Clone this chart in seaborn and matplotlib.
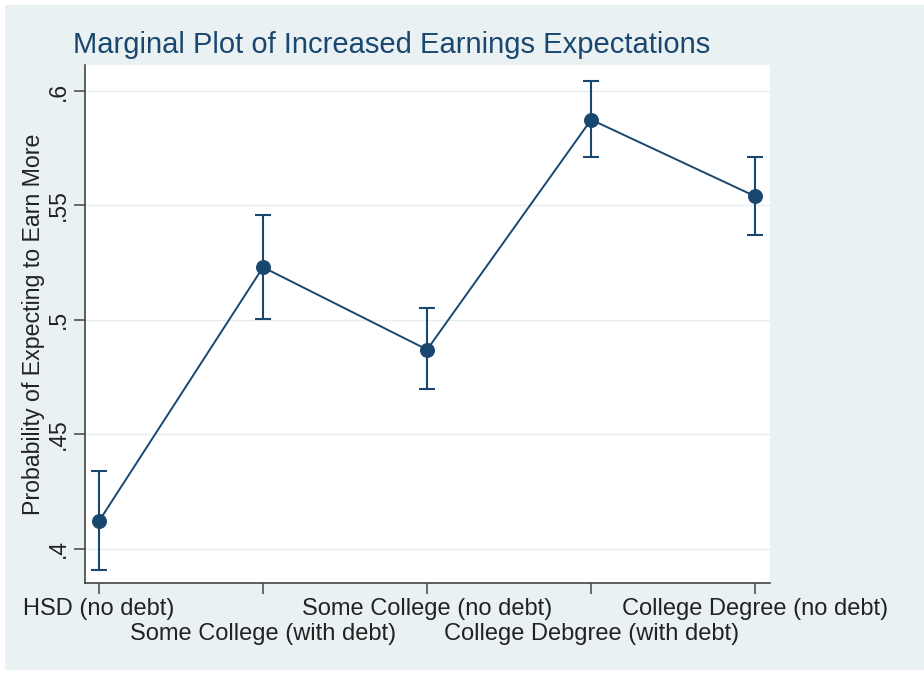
import matplotlib
matplotlib.use("Agg")
import matplotlib.pyplot as plt
import seaborn as sns
import numpy as np
import pandas as pd
from matplotlib.patches import Rectangle

categories = ["HSD (no debt)", "Some College (with debt)", "Some College (no debt)",
              "College Debgree (with debt)", "College Degree (no debt)"]
margins = [0.412, 0.523, 0.487, 0.5875, 0.554]
ci_low = [0.3905, 0.5005, 0.470, 0.571, 0.537]
ci_high = [0.434, 0.546, 0.505, 0.6045, 0.571]
yticks = [0.4, 0.45, 0.5, 0.55, 0.6]
ytick_labels = [".4", ".45", ".5", ".55", ".6"]

sns.set_theme(style="white")
plt.rcParams['font.family'] = ['Liberation Sans', 'DejaVu Sans']

BG = "#EAF1F3"
NAVY = "#1A476F"

fig = plt.figure(figsize=(9.24, 6.74), dpi=100)
fig.patch.set_facecolor("white")
fig.add_artist(Rectangle((5/924, 4/674), 1 - 5/924, 1 - 9/674, transform=fig.transFigure,
                         facecolor=BG, edgecolor="none", zorder=-10))

ax = fig.add_axes([85/924, 1 - 583/674, (770 - 85)/924, (583 - 65)/674])
ax.set_facecolor("white")

df = pd.DataFrame({"pos": np.arange(len(categories)), "margin": margins,
                   "lo": ci_low, "hi": ci_high})

for y in yticks:
    ax.axhline(y, color="#E6EDEF", lw=1.0, zorder=0)

sns.lineplot(data=df, x="pos", y="margin", ax=ax, color=NAVY, lw=1.4,
             marker="o", markersize=10, markeredgecolor=NAVY, markerfacecolor=NAVY, zorder=3)
ax.errorbar(df["pos"], df["margin"],
            yerr=[df["margin"] - df["lo"], df["hi"] - df["margin"]],
            fmt="none", ecolor=NAVY, elinewidth=1.5, capsize=6, capthick=1.5, zorder=2)

ax.set_xlim(-0.085, 4.09)
ax.set_ylim(0.385, 0.6114)
ax.set_yticks(yticks)
ax.set_yticklabels(ytick_labels, rotation=90, va="center", fontsize=16.5, color="#222222")
ax.set_xticks(df["pos"])
ax.set_xticklabels(categories, fontsize=17, color="#222222")
ax.set_xlabel("")
ax.set_ylabel("Probability of Expecting to Earn More", fontsize=16.7, color="#222222", labelpad=1)

for s in ["top", "right"]:
    ax.spines[s].set_visible(False)
for s in ["left", "bottom"]:
    ax.spines[s].set_color("#444444")
    ax.spines[s].set_linewidth(1.2)
ax.tick_params(axis="both", direction="out", length=8, width=1.1, color="#444444",
               left=True, bottom=True, pad=3)
for i, t in enumerate(ax.xaxis.get_major_ticks()):
    t.set_pad(3 if i % 2 == 0 else 21)

fig.text(73/924, 1 - 45/674, "Marginal Plot of Increased Earnings Expectations",
         fontsize=21, color=NAVY, ha="left", va="center")

fig.savefig("out.png", dpi=100, facecolor=fig.get_facecolor())
